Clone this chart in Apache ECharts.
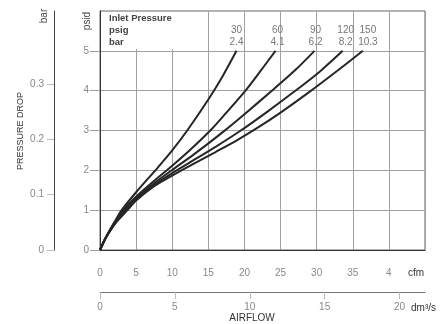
<!DOCTYPE html>
<html>
<head>
<meta charset="utf-8">
<script src="https://cdn.jsdelivr.net/npm/echarts@6/dist/echarts.min.js"></script>
<style>
html,body{margin:0;padding:0;background:#fff;}
#main{width:442px;height:324px;}
</style>
</head>
<body>
<div id="main"></div>
<script>
// inlet pressure of each curve
var psigNames = ['30', '60', '90', '120', '150'];
var barNames = ['2.4', '4.1', '6.2', '8.2', '10.3'];

// curves: [cfm, psid]
var curve30 = [[0,0],[0.5,0.2],[1,0.38],[2,0.7],[3,1.0],[5,1.45],[8,2.07],[10,2.5],[12,2.98],[15,3.78],[17,4.37],[18.9,5.0]];
var curve60 = [[0,0],[0.5,0.2],[1,0.38],[2,0.68],[3.2,1.0],[5,1.34],[7.5,1.74],[10,2.115],[12.5,2.515],[15.3,3.005],[17.5,3.45],[20,3.97],[22,4.44],[24.3,5.0]];
var curve90 = [[0,0],[0.5,0.2],[1,0.37],[2,0.66],[3.4,1.0],[5,1.3],[7.5,1.675],[10,2.01],[13,2.4],[17,2.96],[20,3.41],[24,4.03],[27,4.51],[29.7,5.0]];
var curve120 = [[0,0],[0.5,0.2],[1,0.37],[2,0.65],[3.6,1.0],[5,1.27],[7.5,1.63],[10,1.93],[13,2.26],[16,2.59],[19.5,3.0],[23,3.45],[27,3.99],[30.5,4.49],[33.6,5.0]];
var curve150 = [[0,0],[0.5,0.2],[1,0.36],[2,0.64],[3.8,1.0],[5,1.24],[7.5,1.6],[10,1.87],[13,2.17],[16,2.46],[19,2.76],[22,3.09],[25,3.45],[29,3.97],[33,4.52],[36.4,5.0]];
var curves = [curve30, curve60, curve90, curve120, curve150];

// tick labels
var cfmTicks = [0, 5, 10, 15, 20, 25, 30, 35, 40];
var dmTicks = [0, 5, 10, 15, 20];
var psidTicks = [0, 1, 2, 3, 4, 5];
var barTicks = [0, 0.1, 0.2, 0.3];

var font = '"Liberation Sans", Arial, sans-serif';
var myChart = echarts.init(document.getElementById('main'));

var option = {
    animation: false,
    backgroundColor: '#fff',
    textStyle: { fontFamily: font },
    grid: {
        left: 100, right: 17, top: 11, bottom: 74,
        show: true, borderColor: '#666', borderWidth: 1
    },
    xAxis: [{
        type: 'value', min: 0, max: 45, interval: 5,
        axisLine: { lineStyle: { color: '#333', width: 1 } },
        axisTick: { show: false },
        splitLine: { show: true, lineStyle: { color: '#a0a0a0', width: 1 } },
        axisLabel: {
            customValues: cfmTicks, color: '#888', fontSize: 10, margin: 18,
            formatter: function (v) { return v === 40 ? '4' : String(v); } // cut off in the original
        }
    }, {
        type: 'value', min: 0, max: 21.7, interval: 5,
        position: 'bottom', offset: 42,
        axisLine: { show: true, onZero: false, lineStyle: { color: '#777', width: 1 } },
        axisTick: { show: true, length: 7, customValues: dmTicks, lineStyle: { color: '#bbb' } },
        splitLine: { show: false },
        axisLabel: { customValues: dmTicks, color: '#888', fontSize: 10, margin: 10 }
    }],
    yAxis: [{
        type: 'value', min: 0, max: 6, interval: 1,
        axisLine: { show: true, lineStyle: { color: '#333', width: 1 } },
        axisTick: { show: true, length: 10, customValues: psidTicks, lineStyle: { color: '#a0a0a0' } },
        splitLine: { show: true, lineStyle: { color: '#a0a0a0', width: 1 } },
        axisLabel: { customValues: psidTicks, color: '#888', fontSize: 10, margin: 11 }
    }, {
        type: 'value', min: 0, max: 0.432, interval: 0.1,
        position: 'left', offset: 46,
        axisLine: { show: true, onZero: false, lineStyle: { color: '#444', width: 1 } },
        axisTick: { show: true, length: 7, customValues: barTicks, lineStyle: { color: '#bbb' } },
        splitLine: { show: false },
        axisLabel: { customValues: barTicks, color: '#888', fontSize: 10, margin: 10 }
    }],
    series: curves.map(function (c, i) {
        return {
            name: psigNames[i], type: 'line', data: c,
            xAxisIndex: 0, yAxisIndex: 0,
            smooth: 0.3, symbol: 'none',
            lineStyle: { color: '#262626', width: 2 }
        };
    })
};
myChart.setOption(option);

// texts
function txt(s, x, y, opt) {
    opt = opt || {};
    return {
        type: 'text', x: x, y: y, z: 10, rotation: opt.rot || 0,
        style: {
            text: s, fill: opt.color || '#333',
            font: (opt.weight || 'normal') + ' ' + (opt.size || 10) + 'px ' + font,
            textAlign: opt.align || 'center', align: opt.align || 'center',
            textVerticalAlign: 'middle', verticalAlign: 'middle'
        }
    };
}

var gfx = [
    // white patch behind the legend header
    { type: 'rect', z: 5, shape: { x: 101, y: 12, width: 89, height: 37 }, style: { fill: '#fff' } },
    txt('Inlet Pressure', 109, 18, { align: 'left', weight: 'bold', size: 9.5, color: '#444' }),
    txt('psig', 109, 30, { align: 'left', weight: 'bold', size: 9.5, color: '#444' }),
    txt('bar', 109, 42, { align: 'left', weight: 'bold', size: 9.5, color: '#444' }),
    txt('psid', 87, 21, { rot: Math.PI / 2, color: '#444' }),
    txt('bar', 44, 16, { rot: Math.PI / 2, color: '#444' }),
    txt('PRESSURE DROP', 21, 131, { rot: Math.PI / 2, size: 9, color: '#333' }),
    txt('cfm', 416, 273, { color: '#333' }),
    txt('dm³/s', 411, 308, { align: 'left', color: '#333' }),
    txt('AIRFLOW', 252, 318, { size: 10, color: '#333' })
];
curves.forEach(function (c, i) {
    var p = myChart.convertToPixel({ xAxisIndex: 0, yAxisIndex: 0 }, c[c.length - 1]);
    var dx = [0, 2, 1, 3, 5][i];
    gfx.push(txt(psigNames[i], p[0] + dx, 30, { color: '#777' }));
    gfx.push(txt(barNames[i], p[0] + dx, 42, { color: '#777' }));
});
myChart.setOption({ graphic: gfx });
</script>
</body>
</html>
